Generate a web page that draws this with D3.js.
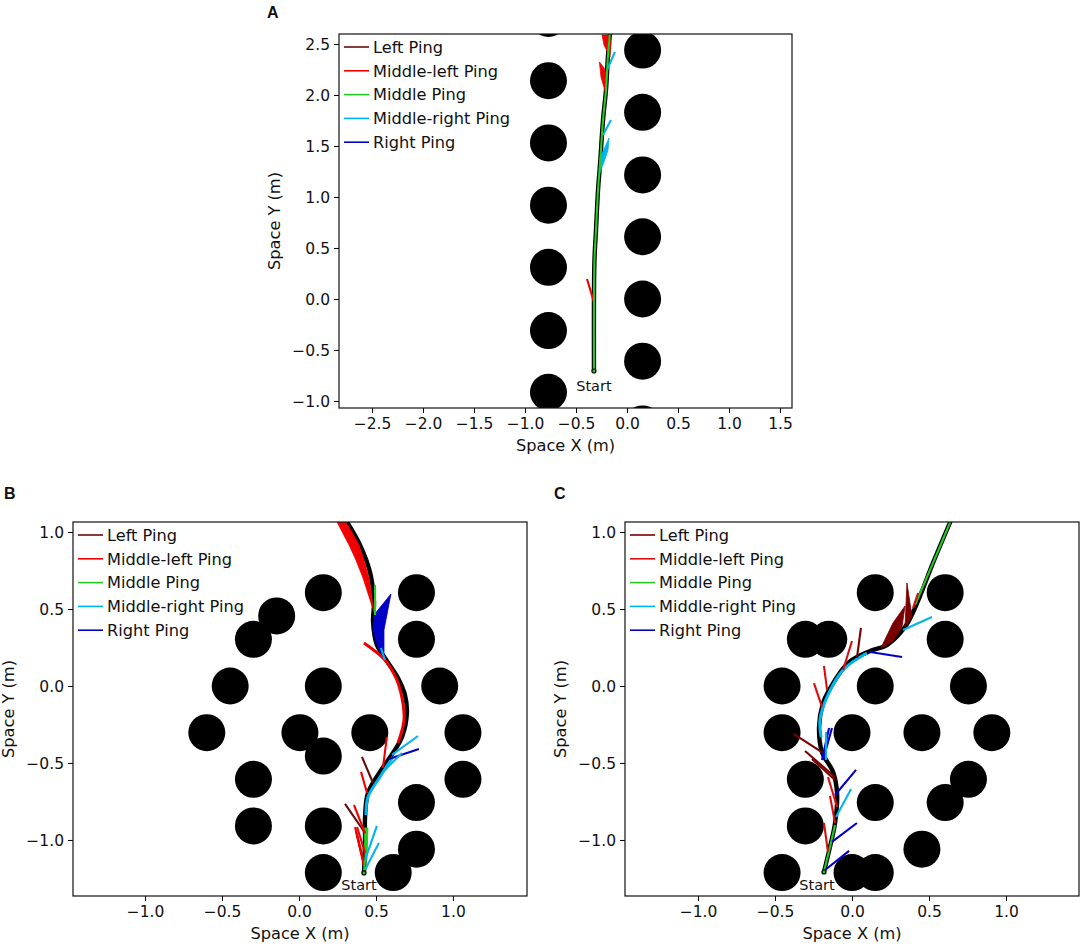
<!DOCTYPE html>
<html>
<head>
<meta charset="utf-8">
<script src="https://cdn.jsdelivr.net/npm/d3@7"></script>
<style>
  html, body { margin: 0; padding: 0; background: #fff; }
  text { font-family: "DejaVu Sans", sans-serif; fill: #111; }
</style>
</head>
<body>
<svg></svg>
<script>
const seriesNames = ["Left Ping", "Middle-left Ping", "Middle Ping", "Middle-right Ping", "Right Ping"];
const seriesColors = ["#640c0c", "#f00000", "#22cc22", "#00b4f0", "#0000c8"];
const seriesColorsC = ["#7a0000", "#d80f0f", "#22cc22", "#00b4f0", "#0000c8"];

// panel A
const xTicksA = [-2.5, -2, -1.5, -1, -0.5, 0, 0.5, 1, 1.5];
const yTicksA = [-1, -0.5, 0, 0.5, 1, 1.5, 2, 2.5];
const circlesA = [
  [-0.77, -0.915], [-0.77, -0.31], [-0.77, 0.31], [-0.77, 0.92], [-0.77, 1.53], [-0.77, 2.14], [-0.77, 2.75],
  [0.153, -1.225], [0.153, -0.61], [0.153, 0], [0.153, 0.61], [0.153, 1.216], [0.153, 1.83], [0.153, 2.44],
];
const pathA = [
  [-0.324, -0.706], [-0.324, -0.01], [-0.319, 0.38], [-0.304, 0.676], [-0.284, 1.07],
  [-0.265, 1.314], [-0.235, 1.755], [-0.206, 2.05], [-0.186, 2.39], [-0.167, 2.6],
];
const bandsA = [];
const pingsA = [
  [1, [[-0.324, -0.029], [-0.392, 0.196]]],
  [3, [[-0.118, 2.422], [-0.196, 2.245]]],
  [3, [[-0.157, 1.755], [-0.235, 1.608]]],
  [2, pathA],
];
const wedgesA = [
  [1, [[-0.27, 2.324], [-0.255, 2.176], [-0.206, 2.01], [-0.196, 2.176], [-0.225, 2.265]]],
  [1, [[-0.245, 2.588], [-0.225, 2.49], [-0.167, 2.373], [-0.157, 2.52], [-0.176, 2.588]]],
  [3, [[-0.176, 1.578], [-0.265, 1.382], [-0.275, 1.216], [-0.225, 1.343], [-0.186, 1.461]]],
];

// panel B
const xTicksB = [-1, -0.5, 0, 0.5, 1];
const yTicksB = [-1, -0.5, 0, 0.5, 1];
const circlesB = [
  [0.158, 0.606], [0.763, 0.606], [-0.145, 0.455], [-0.296, 0.303], [0.763, 0.303], [-0.447, 0], [0.158, 0], [0.914, 0],
  [-0.599, -0.303], [0.006, -0.303], [0.46, -0.303], [1.065, -0.303], [0.158, -0.455], [-0.296, -0.606], [1.065, -0.606],
  [0.763, -0.757], [-0.296, -0.909], [0.158, -0.909], [0.763, -1.06], [0.158, -1.212], [0.612, -1.212],
];
const pathB = [
  [0.422, -1.214], [0.429, -1], [0.429, -0.851], [0.448, -0.695], [0.526, -0.558], [0.61, -0.435],
  [0.669, -0.331], [0.701, -0.175], [0.688, -0.058], [0.643, 0.052], [0.558, 0.182], [0.506, 0.266],
  [0.481, 0.416], [0.487, 0.545], [0.461, 0.74], [0.396, 0.916], [0.312, 1.065],
];
const bandsB = [
  [1, [[0.422, 0.279], [0.558, 0.169], [0.63, 0.052], [0.669, -0.078], [0.682, -0.221], [0.643, -0.37]]],
  [3, [[0.61, -0.461], [0.526, -0.591], [0.448, -0.721], [0.435, -0.838]]],
];
const pingsB = [
  [1, [[0.571, -0.331], [0.545, -0.532]]],
  [3, [[0.773, -0.325], [0.604, -0.448]]],
  [4, [[0.779, -0.409], [0.584, -0.474]]],
  [3, [[0.669, -0.435], [0.558, -0.545]]],
  [0, [[0.409, -0.461], [0.481, -0.63]]],
  [1, [[0.403, -0.558], [0.442, -0.695]]],
  [0, [[0.299, -0.766], [0.429, -0.955]]],
  [1, [[0.357, -0.773], [0.429, -0.955]]],
  [1, [[0.364, -0.916], [0.416, -1.13]]],
  [1, [[0.377, -0.916], [0.429, -1.084]]],
  [1, [[0.377, -0.968], [0.422, -1.149]]],
  [1, [[0.37, -0.94], [0.422, -1.17]]],
  [3, [[0.506, -0.909], [0.429, -1.13]]],
  [3, [[0.519, -1.019], [0.429, -1.195]]],
  [3, [[0.532, 0.247], [0.558, 0.169]]],
  [2, [[0.429, -1.13], [0.422, -1.214]]],
  [2, [[0.494, 0.656], [0.494, 0.461]]],
];
const wedgesB = [
  [1, [[0.247, 1.065], [0.325, 0.916], [0.37, 0.818], [0.416, 0.701], [0.487, 0.481], [0.455, 0.701], [0.422, 0.818], [0.39, 0.916], [0.305, 1.065]]],
  [4, [[0.597, 0.597], [0.487, 0.461], [0.481, 0.364], [0.513, 0.247], [0.552, 0.182], [0.552, 0.364]]],
  [2, [[0.422, -0.922], [0.448, -0.922], [0.442, -1.13], [0.429, -1.13]]],
];

// panel C
const xTicksC = [-1, -0.5, 0, 0.5, 1];
const yTicksC = [-1, -0.5, 0, 0.5, 1];
const circlesC = [
  [0.151, 0.606], [0.605, 0.606], [-0.303, 0.303], [-0.151, 0.303], [0.605, 0.303], [-0.454, 0], [0.151, 0], [0.756, 0],
  [-0.454, -0.303], [0, -0.303], [0.454, -0.303], [0.908, -0.303], [-0.303, -0.606], [0.756, -0.606], [0.151, -0.757],
  [0.605, -0.757], [-0.303, -0.909], [0.454, -1.06], [-0.454, -1.212], [0, -1.212], [0.151, -1.212],
];
const pathC = [
  [-0.182, -1.208], [-0.143, -1.045], [-0.11, -0.89], [-0.097, -0.695], [-0.123, -0.558], [-0.195, -0.429],
  [-0.214, -0.266], [-0.188, -0.11], [-0.156, -0.039], [-0.026, 0.149], [0.117, 0.227], [0.227, 0.266],
  [0.344, 0.383], [0.409, 0.506], [0.526, 0.799], [0.64, 1.07],
];
const bandsC = [
  [3, [[0.097, 0.214], [-0.058, 0.104], [-0.162, -0.071], [-0.208, -0.221], [-0.201, -0.331]]],
];
const pingsC = [
  [2, [[0.409, 0.526], [0.526, 0.799], [0.64, 1.07]]],
  [2, [[-0.182, -1.208], [-0.143, -1.045], [-0.11, -0.903]]],
  [1, [[0.429, 0.604], [0.396, 0.506]]],
  [3, [[0.519, 0.448], [0.331, 0.364]]],
  [4, [[0.325, 0.188], [0.117, 0.221]]],
  [0, [[0.058, 0.377], [0.032, 0.182]]],
  [1, [[0, 0.292], [-0.058, 0.104]]],
  [1, [[-0.182, 0.13], [-0.162, -0.026]]],
  [1, [[-0.247, 0.019], [-0.195, -0.136]]],
  [0, [[-0.377, -0.312], [-0.188, -0.435]]],
  [0, [[-0.305, -0.422], [-0.11, -0.591]]],
  [0, [[-0.26, -0.474], [-0.11, -0.61]]],
  [4, [[-0.13, -0.273], [-0.188, -0.481]]],
  [4, [[-0.149, -0.273], [-0.195, -0.481]]],
  [3, [[-0.169, -0.299], [-0.169, -0.481]]],
  [1, [[-0.156, -0.591], [-0.097, -0.786]]],
  [1, [[-0.143, -0.714], [-0.11, -0.89]]],
  [4, [[0.026, -0.545], [-0.11, -0.708]]],
  [3, [[-0.006, -0.669], [-0.104, -0.851]]],
  [1, [[-0.182, -0.89], [-0.156, -1.078]]],
  [4, [[0.032, -0.89], [-0.13, -1.013]]],
  [4, [[-0.019, -1.071], [-0.175, -1.195]]],
];
const wedgesC = [
  [0, [[0.344, 0.519], [0.266, 0.409], [0.188, 0.247], [0.26, 0.286], [0.325, 0.383]]],
  [0, [[0.357, 0.669], [0.344, 0.383], [0.39, 0.448]]],
];

const svg = d3.select("svg").attr("width", 1084).attr("height", 947);
const format = (d) => (Number.isInteger(d) ? d.toFixed(1) : String(d)).replace("-", "\u2212");

const drawPanel = (p) => {
  const x = d3.scaleLinear().domain(p.xDomain).range([p.left, p.right]);
  const y = d3.scaleLinear().domain(p.yDomain).range([p.bottom, p.top]);
  const clipId = "clip" + p.letter;
  svg.append("clipPath").attr("id", clipId).append("rect")
    .attr("x", p.left).attr("y", p.top)
    .attr("width", p.right - p.left).attr("height", p.bottom - p.top);

  const line = d3.line().x((d) => x(d[0])).y((d) => y(d[1]));
  const smooth = d3.line().x((d) => x(d[0])).y((d) => y(d[1])).curve(d3.curveCatmullRom);
  const g = svg.append("g").attr("clip-path", `url(#${clipId})`);

  g.selectAll("circle").data(p.circles).enter().append("circle")
    .attr("cx", (d) => x(d[0])).attr("cy", (d) => y(d[1])).attr("r", 18.5).attr("fill", "#000");

  g.append("path").attr("d", smooth(p.path)).attr("fill", "none").attr("stroke", "#000").attr("stroke-width", 4.4);

  g.selectAll("path.band").data(p.bands).enter().append("path").attr("class", "band")
    .attr("d", (d) => smooth(d[1]))
    .attr("fill", "none")
    .attr("stroke", (d) => p.colors[d[0]])
    .attr("stroke-width", 3);

  g.selectAll("path.wedge").data(p.wedges).enter().append("path").attr("class", "wedge")
    .attr("d", (d) => line(d[1]) + "Z")
    .attr("fill", (d) => p.colors[d[0]])
    .attr("stroke", (d) => p.colors[d[0]])
    .attr("stroke-width", 0.8);

  g.selectAll("path.ping").data(p.pings).enter().append("path").attr("class", "ping")
    .attr("d", (d) => (d[1].length > 2 ? smooth(d[1]) : line(d[1])))
    .attr("fill", "none")
    .attr("stroke", (d) => p.colors[d[0]])
    .attr("stroke-width", 2.1);

  g.append("circle").attr("cx", x(p.path[0][0])).attr("cy", y(p.path[0][1])).attr("r", 2)
    .attr("fill", "#22cc22").attr("stroke", "#000").attr("stroke-width", 1.2);

  const xAxis = svg.append("g").attr("transform", `translate(0,${p.bottom})`)
    .call(d3.axisBottom(x).tickValues(p.xTicks).tickFormat(format).tickSize(5).tickPadding(5));
  const yAxis = svg.append("g").attr("transform", `translate(${p.left},0)`)
    .call(d3.axisLeft(y).tickValues(p.yTicks).tickFormat(format).tickSize(5).tickPadding(4));
  [xAxis, yAxis].forEach((a) => {
    a.selectAll("text").style("font-family", '"DejaVu Sans"').style("font-size", "15.5px").attr("fill", "#111");
    a.selectAll("line").attr("stroke", "#000").attr("stroke-width", 1);
    a.select(".domain").remove();
  });
  yAxis.selectAll("text").attr("dy", "0.38em");

  svg.append("rect").attr("x", p.left).attr("y", p.top)
    .attr("width", p.right - p.left).attr("height", p.bottom - p.top)
    .attr("fill", "none").attr("stroke", "#111").attr("stroke-width", 1.2);

  svg.append("text").attr("x", (p.left + p.right) / 2).attr("y", p.bottom + 43)
    .attr("text-anchor", "middle").style("font-size", "16.2px").text("Space X (m)");
  svg.append("text").attr("transform", `translate(${p.left - 59},${(p.top + p.bottom) / 2}) rotate(-90)`)
    .attr("text-anchor", "middle").style("font-size", "16.2px").text("Space Y (m)");

  svg.append("text").attr("x", x(p.path[0][0]) + p.startDx).attr("y", y(p.path[0][1]) + p.startDy)
    .attr("text-anchor", "middle").style("font-size", "14.5px").text("Start");

  const legend = svg.append("g").attr("transform", `translate(${p.left + 5},${p.top + 13})`);
  seriesNames.forEach((name, i) => {
    legend.append("line").attr("x1", 0).attr("x2", 25).attr("y1", i * 23.8).attr("y2", i * 23.8)
      .attr("stroke", p.colors[i]).attr("stroke-width", 1.6);
    legend.append("text").attr("x", 29).attr("y", i * 23.8 + 5.8).style("font-size", "16.2px").text(name);
  });

  svg.append("text").attr("x", p.letterX).attr("y", p.letterY)
    .style("font-family", '"Liberation Sans"').style("font-weight", "bold").style("font-size", "16px").text(p.letter);
};

drawPanel({
  letter: "A", letterX: 267, letterY: 18,
  left: 339, right: 792, top: 34, bottom: 408,
  xDomain: [-2.824, 1.618], yDomain: [-1.069, 2.598],
  xTicks: xTicksA, yTicks: yTicksA,
  circles: circlesA, path: pathA, bands: bandsA, pings: pingsA, wedges: wedgesA, colors: seriesColors,
  startDx: 0, startDy: 20,
});
drawPanel({
  letter: "B", letterX: 4, letterY: 499,
  left: 73, right: 527, top: 522, bottom: 896,
  xDomain: [-1.468, 1.481], yDomain: [-1.364, 1.065],
  xTicks: xTicksB, yTicks: yTicksB,
  circles: circlesB, path: pathB, bands: bandsB, pings: pingsB, wedges: wedgesB, colors: seriesColors,
  startDx: -5, startDy: 17,
});
drawPanel({
  letter: "C", letterX: 554, letterY: 499,
  left: 625, right: 1079, top: 522, bottom: 896,
  xDomain: [-1.474, 1.474], yDomain: [-1.364, 1.065],
  xTicks: xTicksC, yTicks: yTicksC,
  circles: circlesC, path: pathC, bands: bandsC, pings: pingsC, wedges: wedgesC, colors: seriesColorsC,
  startDx: -7, startDy: 18,
});
</script>
</body>
</html>
